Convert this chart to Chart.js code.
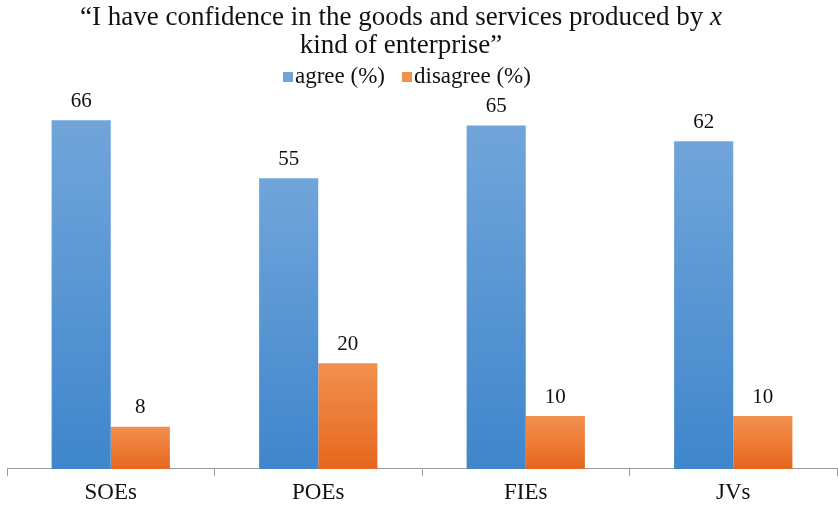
<!DOCTYPE html>
<html>
<head>
<meta charset="utf-8">
<script src="https://cdn.jsdelivr.net/npm/chart.js@4/dist/chart.umd.min.js"></script>
<style>
  body { margin: 0; background: #fff; }
  canvas { display: block; }
</style>
</head>
<body>
<canvas id="chart" width="838" height="508"></canvas>
<script>
const categories = ["SOEs", "POEs", "FIEs", "JVs"];
const agree = [66, 55, 65, 62];
const disagree = [8, 20, 10, 10];
const seriesNames = ["agree (%)", "disagree (%)"];

const SERIF = '"Liberation Serif", "Times New Roman", serif';
const blue = ["#71a5da", "#3f86cc"];
const orange = ["#f2904f", "#e6671d"];

function barGradient(colors) {
  return (c) => {
    const chart = c.chart;
    const y = chart.scales && chart.scales.y;
    if (!y || c.raw == null) return colors[1];
    const top = y.getPixelForValue(c.raw);
    const bottom = y.getPixelForValue(0);
    if (!isFinite(top) || !isFinite(bottom)) return colors[1];
    const g = chart.ctx.createLinearGradient(0, top, 0, bottom);
    g.addColorStop(0, colors[0]);
    g.addColorStop(1, colors[1]);
    return g;
  };
}

// title (with italic x), legend and value labels
const decor = {
  id: "decor",
  afterDraw(chart) {
    const ctx = chart.ctx;
    const cx = 401;
    ctx.save();
    ctx.fillStyle = "#111";
    ctx.textBaseline = "middle";

    // title
    const tf = "27px " + SERIF;
    const part1 = "\u201cI have confidence in the goods and services produced by ";
    ctx.font = tf;
    const w1 = ctx.measureText(part1).width;
    ctx.font = "italic " + tf;
    const w2 = ctx.measureText("x").width;
    let x = cx - (w1 + w2) / 2;
    ctx.textAlign = "left";
    ctx.font = tf;
    ctx.fillText(part1, x, 18);
    ctx.font = "italic " + tf;
    ctx.fillText("x", x + w1, 18);
    ctx.font = tf;
    ctx.textAlign = "center";
    ctx.fillText("kind of enterprise\u201d", cx, 46);

    // legend
    ctx.font = "23px " + SERIF;
    ctx.textAlign = "left";
    const solid = [blue[0], orange[0]];
    let lx = 283;
    seriesNames.forEach((name, i) => {
      ctx.fillStyle = solid[i];
      ctx.fillRect(lx, 72, 10, 10);
      ctx.fillStyle = "#111";
      ctx.fillText(name, lx + 12, 77);
      lx += 12 + ctx.measureText(name).width + 17;
    });

    // value labels
    ctx.font = "21px " + SERIF;
    ctx.textAlign = "center";
    chart.data.datasets.forEach((ds, di) => {
      chart.getDatasetMeta(di).data.forEach((bar, i) => {
        ctx.fillText(String(ds.data[i]), bar.x, bar.y - 19);
      });
    });
    ctx.restore();
  }
};

new Chart(document.getElementById("chart").getContext("2d"), {
  type: "bar",
  data: {
    labels: categories,
    datasets: [
      {
        label: seriesNames[0],
        data: agree,
        backgroundColor: barGradient(blue),
        borderWidth: 0,
        categoryPercentage: 0.57,
        barPercentage: 1,
      },
      {
        label: seriesNames[1],
        data: disagree,
        backgroundColor: barGradient(orange),
        borderWidth: 0,
        categoryPercentage: 0.57,
        barPercentage: 1,
      },
    ],
  },
  options: {
    responsive: false,
    animation: false,
    layout: { padding: { top: 99, left: 7, right: 1, bottom: -2 } },
    plugins: {
      legend: { display: false },
      title: { display: false },
      tooltip: { enabled: false },
    },
    scales: {
      y: { display: false, min: 0, max: 70 },
      x: {
        offset: true,
        grid: { offset: true, drawOnChartArea: false, tickLength: 7, color: "#9a9a9a" },
        border: { color: "#9a9a9a", width: 1 },
        ticks: { color: "#111", padding: 6, font: { family: SERIF, size: 23, lineHeight: 0.96 } },
      },
    },
  },
  plugins: [decor],
});
</script>
</body>
</html>
